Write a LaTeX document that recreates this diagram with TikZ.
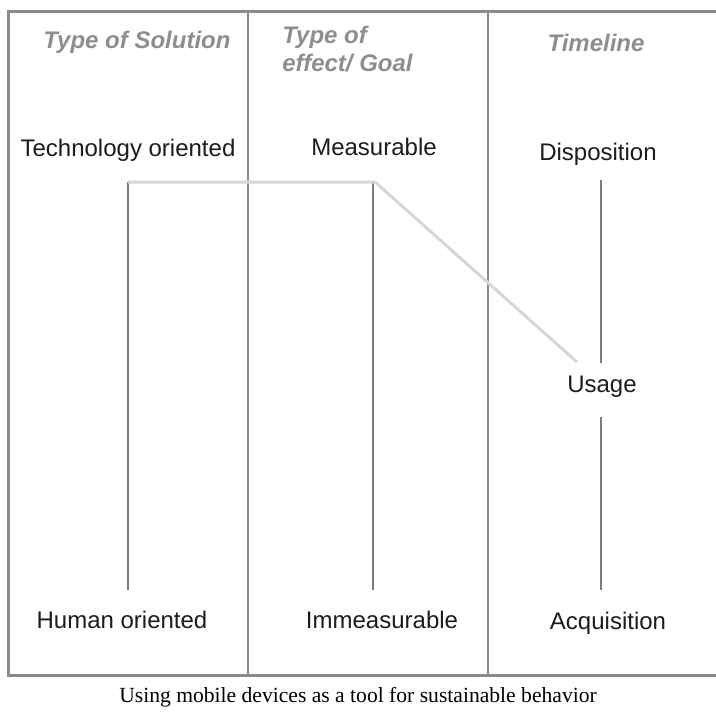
\documentclass[tikz,border=0pt]{standalone}
\usepackage{fontspec}
\setmainfont{Liberation Serif}
\newfontfamily\arialfont{Liberation Sans}
\definecolor{framegray}{HTML}{8A8A8A}
\definecolor{axisgray}{HTML}{7C7C7C}
\definecolor{linkgray}{HTML}{D6D6D6}
\definecolor{headgray}{HTML}{8E8E8E}
\definecolor{textblack}{HTML}{1C1C1C}
\begin{document}
\begin{tikzpicture}[x=0.5pt,y=-0.5pt,
  frame/.style={draw=framegray,line width=1.5pt},
  divider/.style={draw=framegray,line width=1.2pt},
  axis/.style={draw=axisgray,line width=1.1pt},
  link/.style={draw=linkgray,line width=1.5pt,line join=miter},
  hdr/.style={inner sep=0pt,text=headgray,font=\arialfont\bfseries\itshape\fontsize{12}{14}\selectfont},
  lbl/.style={inner sep=0pt,text=textblack,font=\arialfont\fontsize{12}{14}\selectfont},
  caption/.style={inner sep=0pt,text=black,font=\fontsize{10.8}{13}\selectfont}]
\useasboundingbox (0,0) rectangle (716,713);
\fill[white] (0,0) rectangle (716,713);
\begin{scope}
\clip (0,0) rectangle (716,713);
% outer frame (runs past the right edge) and column dividers
\draw[frame] (8,11) rectangle (740,675);
\draw[divider] (248,11) -- (248,675);
\draw[divider] (488,11) -- (488,675);
\end{scope}

% column headings
\node[hdr] (hsol) at (137,42) {Type of Solution};
\node[hdr,anchor=west,align=left] (heff) at (282,49) {Type of\\effect/ Goal};
\node[hdr] (htime) at (596,43) {Timeline};

% scale end labels
\node[lbl] (tech) at (128,150) {Technology oriented};
\node[lbl] (human) at (122,620) {Human oriented};
\node[lbl] (meas) at (374,147) {Measurable};
\node[lbl] (immeas) at (382,620) {Immeasurable};
\node[lbl] (disp) at (598,154) {Disposition};
\node[lbl] (usage) at (602,387) {Usage};
\node[lbl] (acq) at (608,623) {Acquisition};

% scale axes
\coordinate (solTop) at (128,182);
\coordinate (solBot) at (128,590);
\coordinate (effTop) at (373,182);
\coordinate (effBot) at (373,590);
\coordinate (timeTop) at (601,180);
\coordinate (timeMidA) at (601,363);
\coordinate (timeMidB) at (601,417);
\coordinate (timeBot) at (601,590);
\draw[axis] (solTop) -- (solBot);
\draw[axis] (effTop) -- (effBot);
\draw[axis] (timeTop) -- (timeMidA);
\draw[axis] (timeMidB) -- (timeBot);

% profile line across the three scales
\coordinate (bend) at (375,182);
\coordinate (useEnd) at (577,362);
\draw[link] (solTop) -- (bend) -- (useEnd);

% caption
\node[caption] (cap) at (358,697) {Using mobile devices as a tool for sustainable behavior};
\end{tikzpicture}
\end{document}
